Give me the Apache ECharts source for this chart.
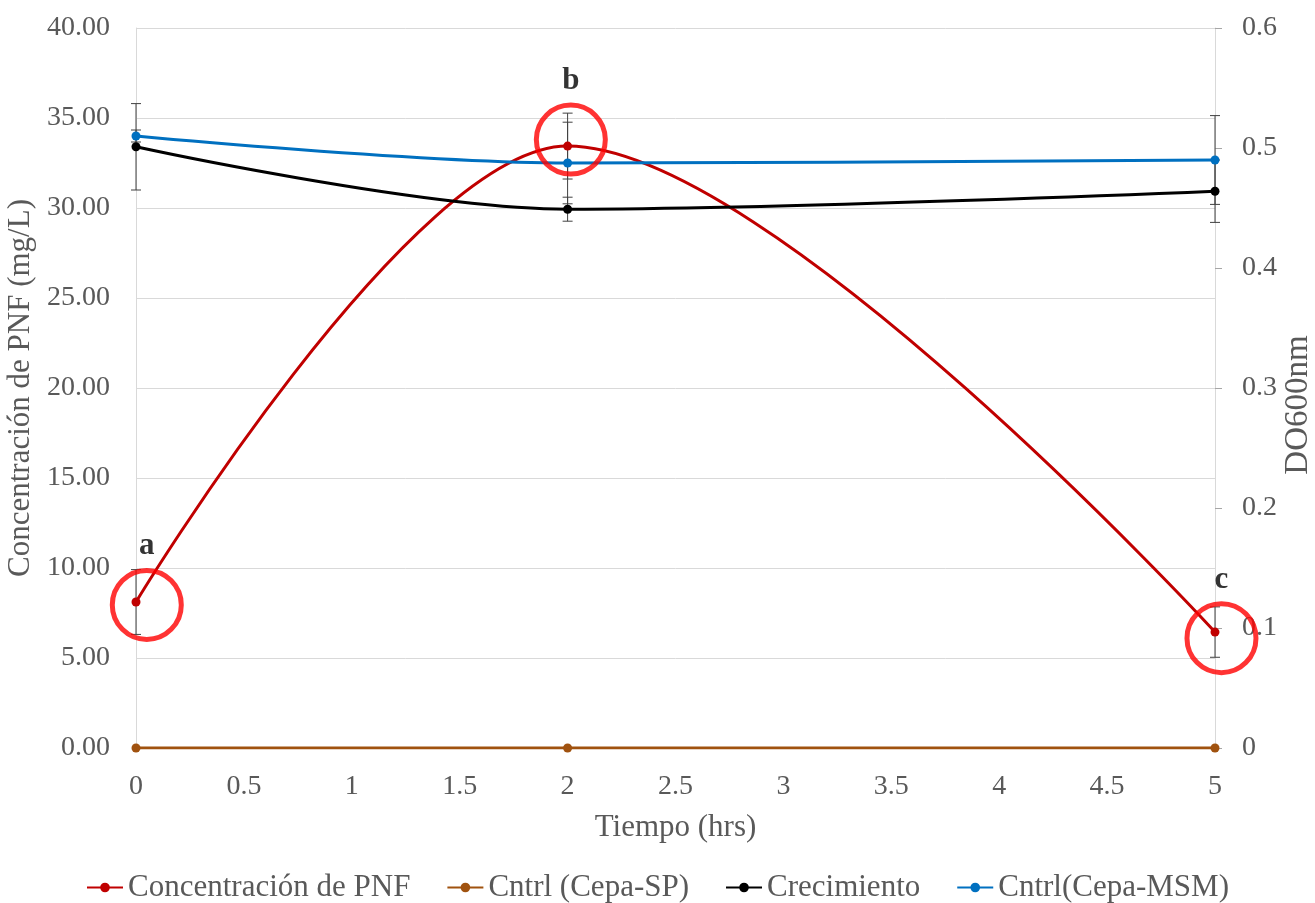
<!DOCTYPE html>
<html>
<head>
<meta charset="utf-8">
<script src="https://cdn.jsdelivr.net/npm/echarts@6/dist/echarts.min.js"></script>
<style>
  html, body { margin: 0; padding: 0; background: #ffffff; }
  #chart { width: 1315px; height: 903px; }
</style>
</head>
<body>
<div id="chart"></div>
<script>
// Sampling times (hrs)
const times = [0, 2, 5];

// PNF concentration (mg/L, left axis) and its error
const pnf = [8.11, 33.44, 6.44];
const pnfErr = [1.8, 1.83, 1.4];

// Control without strain (mg/L, left axis)
const cntrlSP = [0, 0, 0];

// Growth, OD600 (right axis) and its error
const crecimiento = [0.501, 0.449, 0.464];
const crecimientoErr = [0.036, 0.01, 0.026];

// MSM control, OD600 (right axis) and its error
const cntrlMSM = [0.51, 0.4875, 0.49];
const cntrlMSMErr = [0.005, 0.034, 0.037];

// Highlighted points with their letters
const marks = [
  { t: 0.05, v: 7.95, letter: 'a' },
  { t: 2.015, v: 33.8, letter: 'b' },
  { t: 5.03, v: 6.1, letter: 'c' }
];

const leftTicks = { min: 0, max: 40, interval: 5 };
const rightTicks = { min: 0, max: 0.6, interval: 0.1 };
const xTicks = { min: 0, max: 5, interval: 0.5 };

const FONT = "'Liberation Serif', 'DejaVu Serif', serif";
const GREY = '#595959';

function pairs(values) {
  return times.map((t, i) => [t, values[i]]);
}
function errRows(values, errs) {
  return times.map((t, i) => [t, values[i] - errs[i], values[i] + errs[i]]);
}

// Vertical error bar with small caps
function renderErr(params, api) {
  const x = api.value(0);
  const lo = api.coord([x, api.value(1)]);
  const hi = api.coord([x, api.value(2)]);
  const w = 5;
  const st = { stroke: '#404040', lineWidth: 1 };
  return {
    type: 'group',
    children: [
      { type: 'line', shape: { x1: lo[0], y1: lo[1], x2: hi[0], y2: hi[1] }, style: st },
      { type: 'line', shape: { x1: lo[0] - w, y1: lo[1], x2: lo[0] + w, y2: lo[1] }, style: st },
      { type: 'line', shape: { x1: hi[0] - w, y1: hi[1], x2: hi[0] + w, y2: hi[1] }, style: st }
    ]
  };
}

function lineSeries(name, data, color, yIdx) {
  return {
    name: name,
    type: 'line',
    yAxisIndex: yIdx,
    data: pairs(data),
    smooth: 0.33,
    symbol: 'circle',
    symbolSize: 9,
    lineStyle: { color: color, width: 3 },
    itemStyle: { color: color },
    z: 3
  };
}

const chart = echarts.init(document.getElementById('chart'), null, { renderer: 'canvas' });

chart.setOption({
  animation: false,
  backgroundColor: '#ffffff',
  textStyle: { fontFamily: FONT },
  grid: { left: 136, right: 100, top: 28, bottom: 155, containLabel: false, outerBoundsMode: 'none' },
  legend: {
    top: 867,
    left: 'center',
    itemWidth: 36,
    itemHeight: 12,
    itemGap: 36,
    textStyle: { fontFamily: FONT, fontSize: 31, color: GREY },
    data: ['Concentración de PNF', 'Cntrl (Cepa-SP)', 'Crecimiento', 'Cntrl(Cepa-MSM)']
  },
  xAxis: {
    type: 'value',
    min: xTicks.min,
    max: xTicks.max,
    interval: xTicks.interval,
    name: 'Tiempo (hrs)',
    nameLocation: 'middle',
    nameGap: 64,
    nameTextStyle: { fontFamily: FONT, fontSize: 31, color: GREY },
    axisLine: { show: true, lineStyle: { color: '#d9d9d9' } },
    axisTick: { show: false },
    splitLine: { show: false },
    axisLabel: { fontFamily: FONT, fontSize: 28, color: GREY, margin: 25 }
  },
  yAxis: [
    {
      type: 'value',
      position: 'left',
      min: leftTicks.min,
      max: leftTicks.max,
      interval: leftTicks.interval,
      name: 'Concentración de PNF (mg/L)',
      nameLocation: 'middle',
      nameGap: 96,
      nameTextStyle: { fontFamily: FONT, fontSize: 31, color: GREY },
      axisLine: { show: true, lineStyle: { color: '#d9d9d9' } },
      axisTick: { show: false },
      splitLine: { show: true, lineStyle: { color: '#d9d9d9', width: 1 } },
      axisLabel: {
        fontFamily: FONT, fontSize: 28, color: GREY, margin: 26,
        formatter: v => v.toFixed(2)
      }
    },
    {
      type: 'value',
      position: 'right',
      min: rightTicks.min,
      max: rightTicks.max,
      interval: rightTicks.interval,
      name: 'DO600nm',
      nameLocation: 'middle',
      nameGap: 67,
      nameMoveOverlap: false,
      nameRotate: 90,
      nameTextStyle: { fontFamily: FONT, fontSize: 33, color: GREY, padding: [0, 34, 0, 0] },
      axisLine: { show: true, lineStyle: { color: '#d9d9d9' } },
      axisTick: { show: true, length: 7, lineStyle: { color: '#a6a6a6' } },
      splitLine: { show: false },
      axisLabel: {
        fontFamily: FONT, fontSize: 28, color: GREY, margin: 27,
        formatter: v => String(Math.round(v * 10) / 10)
      }
    }
  ],
  series: [
    { type: 'custom', yAxisIndex: 0, data: errRows(pnf, pnfErr), renderItem: renderErr, z: 2, silent: true },
    { type: 'custom', yAxisIndex: 1, data: errRows(crecimiento, crecimientoErr), renderItem: renderErr, z: 2, silent: true },
    { type: 'custom', yAxisIndex: 1, data: errRows(cntrlMSM, cntrlMSMErr), renderItem: renderErr, z: 2, silent: true },
    lineSeries('Concentración de PNF', pnf, '#c00000', 0),
    lineSeries('Cntrl (Cepa-SP)', cntrlSP, '#a0520f', 0),
    lineSeries('Crecimiento', crecimiento, '#000000', 1),
    lineSeries('Cntrl(Cepa-MSM)', cntrlMSM, '#0070c0', 1),
    {
      type: 'scatter',
      yAxisIndex: 0,
      clip: false,
      silent: true,
      z: 5,
      symbol: 'circle',
      symbolSize: 69,
      itemStyle: { color: 'rgba(0,0,0,0)', borderColor: '#ff0000', borderWidth: 5 },
      data: marks.map(m => ({ value: [m.t, m.v], name: m.letter })),
      label: {
        show: true,
        position: 'top',
        distance: 6,
        formatter: p => p.name,
        fontFamily: FONT,
        fontSize: 31,
        fontWeight: 'bold',
        color: '#000000'
      }
    }
  ]
});
</script>
</body>
</html>
